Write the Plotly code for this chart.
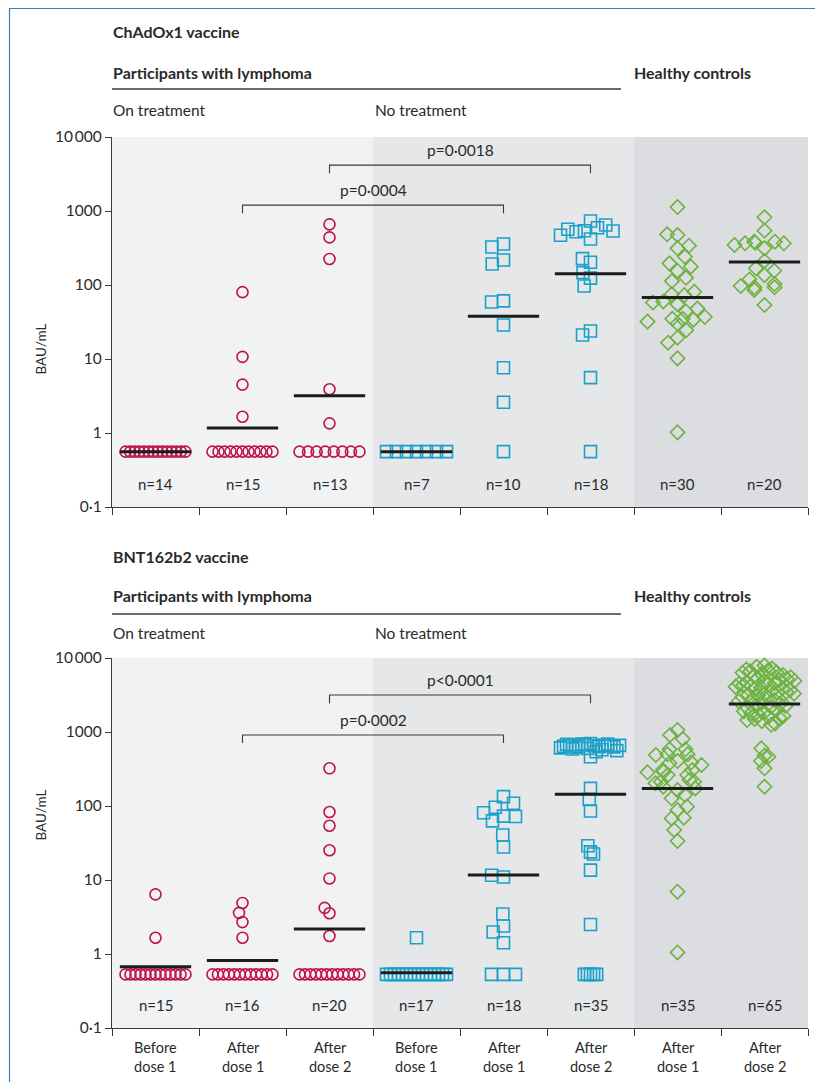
import numpy as np
import plotly.graph_objects as go

# ---------------- data ----------------
categories = ["Before<br>dose 1", "After<br>dose 1", "After<br>dose 2",
              "Before<br>dose 1", "After<br>dose 1", "After<br>dose 2",
              "After<br>dose 1", "After<br>dose 2"]
group_kind = ["lymph_on", "lymph_on", "lymph_on",
              "lymph_off", "lymph_off", "lymph_off",
              "healthy", "healthy"]

# ChAdOx1 vaccine (BAU/mL)
chad_g1 = [0.56, 0.56, 0.56, 0.56, 0.56, 0.56, 0.56, 0.56, 0.56, 0.56, 0.56, 0.56, 0.56, 0.56]
chad_g2 = [80, 10.7, 4.5, 1.66, 0.56, 0.56, 0.56, 0.56, 0.56, 0.56, 0.56, 0.56, 0.56, 0.56, 0.56]
chad_g3 = [660, 440, 225, 3.9, 1.35, 0.56, 0.56, 0.56, 0.56, 0.56, 0.56, 0.56, 0.56]
chad_g4 = [0.56, 0.56, 0.56, 0.56, 0.56, 0.56, 0.56]
chad_g5 = [358, 326, 218, 192, 61, 59, 28.8, 7.6, 2.6, 0.56]
chad_g6 = [732, 646, 595, 567, 542, 537, 525, 470, 418, 227, 203, 147, 124, 97,
           23.9, 21.1, 5.6, 0.56]
chad_g7 = [1130, 484, 474, 340, 313, 241, 196, 177, 155, 125, 113, 81, 75, 73, 60,
           58, 55, 48, 44, 37, 35, 35, 34, 32, 30, 24.6, 19.4, 16.6, 10.2, 1.02]
chad_g8 = [822, 542, 385, 385, 373, 366, 366, 347, 313, 211, 168, 156, 136, 119,
           103, 97, 93, 93, 85.5, 53.7]
chad_gmt = [0.56, 1.17, 3.19, 0.56, 37.8, 142, 68, 205]
chad_n = [14, 15, 13, 7, 10, 18, 30, 20]
chad_p = [(1, 4, "p=0·0004"), (2, 5, "p=0·0018")]

# BNT162b2 vaccine (BAU/mL)
bnt_g1 = [6.4, 1.66, 0.53, 0.53, 0.53, 0.53, 0.53, 0.53, 0.53, 0.53, 0.53, 0.53,
          0.53, 0.53, 0.53]
bnt_g2 = [4.9, 3.6, 2.7, 1.66, 0.53, 0.53, 0.53, 0.53, 0.53, 0.53, 0.53, 0.53,
          0.53, 0.53, 0.53, 0.53]
bnt_g3 = [323, 83, 54, 25.2, 10.5, 4.2, 3.55, 1.75, 0.53, 0.53, 0.53, 0.53, 0.53,
          0.53, 0.53, 0.53, 0.53, 0.53, 0.53, 0.53]
bnt_g4 = [1.66, 0.53, 0.53, 0.53, 0.53, 0.53, 0.53, 0.53, 0.53, 0.53, 0.53, 0.53,
          0.53, 0.53, 0.53, 0.53, 0.53]
bnt_g5 = [134, 109, 96, 81, 73, 72, 63, 40.5, 27.9, 11.6, 11.0, 3.47, 2.39, 1.98,
          1.42, 0.53, 0.53, 0.53]
bnt_g6 = [700, 690, 685, 680, 675, 670, 665, 660, 655, 650, 645, 640, 635, 630,
          620, 610, 600, 590, 575, 560, 540, 464, 173, 123, 85.5, 29, 24, 22.5,
          13.6, 2.5, 0.53, 0.53, 0.53, 0.53, 0.53]
bnt_g7 = [1064, 911, 804, 583, 583, 499, 489, 499, 389, 405, 378, 358, 262, 291,
          306, 262, 285, 306, 182, 213, 225, 203, 164, 173, 213, 141, 127, 98, 88,
          69.5, 68, 47.4, 33.7, 6.95, 1.05]
bnt_g8 = [7900, 7600, 7200, 7000, 6800, 6600, 6400, 6300, 6100, 5900, 5700, 5500,
          5300, 5200, 5000, 4900, 4800, 4700, 4600, 4500, 4400, 4300, 4200, 4100,
          4000, 3900, 3800, 3700, 3600, 3500, 3400, 3300, 3250, 3200, 3100, 3000,
          2900, 2800, 2700, 2600, 2500, 2400, 2300, 2250, 2200, 2100, 2000, 1900,
          1850, 1800, 1700, 1650, 1600, 1550, 1500, 1450, 1400, 1300, 1250,
          602, 480, 464, 405, 323, 182]
bnt_gmt = [0.67, 0.82, 2.18, 0.56, 11.7, 144, 173, 2390]
bnt_n = [15, 16, 20, 17, 18, 35, 35, 65]
bnt_p = [(1, 4, "p=0·0002"), (2, 5, "p<0·0001")]

ytick_vals = [0.1, 1, 10, 100, 1000, 10000]
ytick_text = ["0·1", "1", "10", "100", "1000", "10\u2009000"]

# ---------------- styles ----------------
FONT = "Lato"
TXT = "#2a2a2a"
AX = "#3a3a3a"
styles = {
    "lymph_on": dict(symbol="circle-open", size=11, color="#c0124a"),
    "lymph_off": dict(symbol="square-open", size=12, color="#1ba1c9"),
    "healthy": dict(symbol="diamond-open", size=11, color="#6cb33f"),
}
bands = [(-0.5, 2.5, "#f1f2f4"), (2.5, 5.5, "#e6e7e9"), (5.5, 7.5, "#dcdde0")]
PX_X = 87.0    # pixels per category unit
PX_DEC = 74.0  # pixels per decade


def _bitrev_order(n):
    bits = max(1, int(np.ceil(np.log2(max(n, 2)))))
    keys = []
    for r in range(n):
        b = int(format(r, f"0{bits}b")[::-1], 2)
        keys.append(b)
    return list(np.argsort(keys, kind="stable"))


def swarm(vals, D=12.0, half=30.0):
    """Beeswarm offsets (category units) computed in screen pixels."""
    v = np.asarray(vals, float)
    y = np.log10(v) * PX_DEC
    ranked = list(np.argsort(-y, kind="stable"))
    order = [ranked[k] for k in _bitrev_order(len(ranked))]
    px_, py_ = [], []
    offs = np.zeros(len(v))
    for i in order:
        cands = [0.0]
        for xj, yj in zip(px_, py_):
            dy = y[i] - yj
            if abs(dy) < D:
                dx = np.sqrt(D * D - dy * dy)
                cands += [xj - dx, xj + dx]
        cands.sort(key=lambda c: (round(abs(c), 6), c))
        chosen = cands[-1]
        for c in cands:
            if all((c - xj) ** 2 + (y[i] - yj) ** 2 >= D * D - 1e-6
                   for xj, yj in zip(px_, py_)):
                chosen = c
                break
        offs[i] = chosen
        px_.append(chosen)
        py_.append(y[i])
    for val in np.unique(v):
        m = v == val
        if m.sum() > 1:
            offs[m] -= offs[m].mean()
    mx = np.abs(offs).max()
    if mx > half:
        offs *= half / mx
    return offs / PX_X


fig = go.Figure()

panels = [
    dict(groups=[chad_g1, chad_g2, chad_g3, chad_g4, chad_g5, chad_g6, chad_g7, chad_g8],
         gmt=chad_gmt, n=chad_n, p=chad_p, xa="x", ya="y",
         plevels=[(3.08, 3.28), (3.62, 3.82)]),
    dict(groups=[bnt_g1, bnt_g2, bnt_g3, bnt_g4, bnt_g5, bnt_g6, bnt_g7, bnt_g8],
         gmt=bnt_gmt, n=bnt_n, p=bnt_p, xa="x2", ya="y2",
         plevels=[(2.96, 3.16), (3.50, 3.70)]),
]

annotations = []
shapes = []

for pan in panels:
    xa, ya = pan["xa"], pan["ya"]
    for x0, x1, col in bands:
        shapes.append(dict(type="rect", xref=xa, yref=ya + " domain", x0=x0, x1=x1,
                           y0=0, y1=1, fillcolor=col, line=dict(width=0), layer="below"))
    for i, vals in enumerate(pan["groups"]):
        st = styles[group_kind[i]]
        off = swarm(vals)
        fig.add_trace(go.Scatter(
            x=i + off, y=vals, xaxis=xa, yaxis=ya, mode="markers",
            marker=dict(symbol=st["symbol"], size=st["size"], color=st["color"],
                        line=dict(width=1.6, color=st["color"])),
            showlegend=False, hoverinfo="y", cliponaxis=False))
    gx, gy = [], []
    for i, g in enumerate(pan["gmt"]):
        gx += [i - 0.41, i + 0.41, None]
        gy += [g, g, None]
    fig.add_trace(go.Scatter(x=gx, y=gy, xaxis=xa, yaxis=ya, mode="lines",
                             line=dict(color="#1c1c1c", width=3), showlegend=False,
                             hoverinfo="skip"))
    for i, n in enumerate(pan["n"]):
        annotations.append(dict(x=i, y=-0.685, xref=xa, yref=ya, text=f"n={n}",
                                showarrow=False, font=dict(family=FONT, size=15, color=TXT)))
    for (a, b, label), (lvl, tl) in zip(pan["p"], pan["plevels"]):
        fig.add_trace(go.Scatter(
            x=[a, a, b, b], y=[10 ** (lvl - 0.11), 10 ** lvl, 10 ** lvl, 10 ** (lvl - 0.11)],
            xaxis=xa, yaxis=ya, mode="lines", line=dict(color=AX, width=1.1),
            showlegend=False, hoverinfo="skip"))
        annotations.append(dict(x=(a + b) / 2, y=tl, xref=xa, yref=ya, text=label,
                                showarrow=False, font=dict(family=FONT, size=15.5, color=TXT)))

# ---------------- axes ----------------
H_PAPER = 891.0
def py(px):
    return (1028.0 - px) / H_PAPER

def pxp(px):
    return (px - 112.0) / 696.0

xcommon = dict(range=[-0.5, 7.5], tickmode="array",
               tickvals=[-0.5, 0.5, 1.5, 2.5, 3.5, 4.5, 5.5, 6.5, 7.5],
               ticktext=[""] * 9, ticks="outside", ticklen=7, tickwidth=1,
               tickcolor=AX, showline=True, linecolor=AX, linewidth=1.2,
               showgrid=False, zeroline=False, fixedrange=True)
ycommon = dict(type="log", range=[-1, 4], tickmode="array", tickvals=ytick_vals,
               ticktext=ytick_text, ticks="outside", ticklen=6, tickwidth=1,
               tickcolor=AX, showline=True, linecolor=AX, linewidth=1.2,
               showgrid=False, zeroline=False,
               tickfont=dict(family=FONT, size=15.5, color=TXT))

fig.update_layout(
    xaxis=dict(domain=[0, 1], anchor="y", **xcommon),
    yaxis=dict(domain=[py(507), 1], anchor="x", **ycommon),
    xaxis2=dict(domain=[0, 1], anchor="y2", **xcommon),
    yaxis2=dict(domain=[0, py(658)], anchor="x2", **ycommon),
)

for i, c in enumerate(categories):
    annotations.append(dict(x=i, y=py(1037), xref="x2", yref="paper", text=c,
                            showarrow=False, yanchor="top",
                            font=dict(family=FONT, size=14.5, color=TXT)))

def header(text, px_x, px_y, bold=False):
    annotations.append(dict(x=pxp(px_x), y=py(px_y), xref="paper", yref="paper",
                            text=f"<b>{text}</b>" if bold else text, showarrow=False,
                            xanchor="left", yanchor="middle",
                            font=dict(family=FONT, size=16 if bold else 15.5, color=TXT)))

for title, y_t, y_p, y_l, y_o in [("ChAdOx1 vaccine", 32, 72, 89, 110),
                                   ("BNT162b2 vaccine", 556, 595, 614, 633)]:
    header(title, 111, y_t, bold=True)
    header("Participants with lymphoma", 111, y_p, bold=True)
    header("Healthy controls", 632, y_p, bold=True)
    header("On treatment", 111, y_o)
    header("No treatment", 373, y_o)
    shapes.append(dict(type="line", xref="paper", yref="paper", x0=0, x1=pxp(621),
                       y0=py(y_l), y1=py(y_l), line=dict(color=AX, width=1.3)))

for yc in (322, 843):
    annotations.append(dict(x=pxp(30), y=py(yc), xref="paper", yref="paper",
                            text="BAU/mL", textangle=-90, showarrow=False,
                            font=dict(family=FONT, size=13.5, color=TXT)))

shapes.append(dict(type="rect", xref="paper", yref="paper", x0=pxp(9.5), x1=pxp(821.5),
                   y0=py(1095), y1=py(8.5), line=dict(color="#3b7cc4", width=1.2),
                   fillcolor="rgba(0,0,0,0)", layer="above"))

# page body has an 8 px default margin: size the figure so the plot lands where intended
fig.update_layout(width=815, height=1074,
                  margin=dict(l=104, r=15, t=129, b=54),
                  paper_bgcolor="white", plot_bgcolor="white",
                  annotations=annotations, shapes=shapes,
                  font=dict(family=FONT, color=TXT), showlegend=False)

fig.write_html("out.html")
